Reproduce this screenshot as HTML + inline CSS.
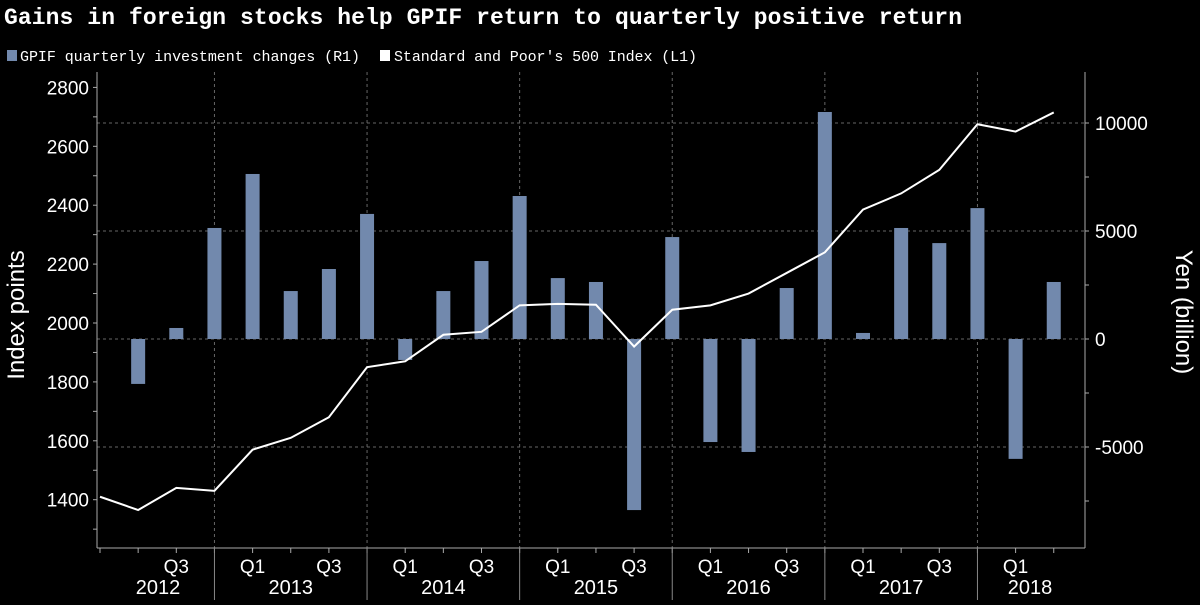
<!DOCTYPE html>
<html><head><meta charset="utf-8"><style>
body{margin:0;background:#000;width:1200px;height:600px;overflow:hidden;font-family:"Liberation Sans",sans-serif;}
svg text{font-family:"Liberation Sans","DejaVu Sans",sans-serif;fill:#fff;}
svg text.mono{font-family:"Liberation Mono","DejaVu Sans Mono",monospace;}
</style></head><body>
<svg width="1200" height="600">
<text class="mono" x="4" y="24" font-size="23" font-weight="bold" textLength="958">Gains in foreign stocks help GPIF return to quarterly positive return</text>
<g>
<rect x="7" y="50" width="10" height="11" fill="#7289ad"/>
<text class="mono" x="20" y="61" font-size="15" textLength="340">GPIF quarterly investment changes (R1)</text>
<rect x="380" y="50" width="10" height="11" fill="#fff"/>
<text class="mono" x="394" y="61" font-size="15" textLength="303">Standard and Poor's 500 Index  (L1)</text>
</g>
<g id="grid"></g><g id="bars"></g><g id="line"></g><g id="axes"></g>
<text transform="translate(24,315) rotate(-90)" text-anchor="middle" font-size="24">Index points</text>
<text transform="translate(1176,312) rotate(90)" text-anchor="middle" font-size="24">Yen (billion)</text>
</svg>
<script>
const spx=[1410,1365,1440,1430,1570,1610,1680,1850,1870,1960,1970,2060,2065,2062,1920,2045,2060,2100,2170,2240,2385,2440,2520,2675,2650,2715];
const gpif=[-2080,510,5140,7640,2220,3240,5790,-970,2220,3610,6620,2820,2640,-7920,4720,-4770,-5230,2360,10510,280,5140,4440,6060,-5550,2640];
const leftTicks=[1400,1600,1800,2000,2200,2400,2600,2800];
const rightTicks=[-5000,0,5000,10000];
const years=["2012","2013","2014","2015","2016","2017","2018"];
const NS="http://www.w3.org/2000/svg";
const X0=97,X1=1085,YB=548;
const xq=i=>100+38.15*i;
const yL=v=>323-(v-2000)*58.9/200;
const yR=v=>339-v*108/5000;
function el(t,a,p){const e=document.createElementNS(NS,t);for(const k in a)e.setAttribute(k,a[k]);document.getElementById(p).appendChild(e);return e;}
rightTicks.forEach(v=>{const g=el('line',{x1:X0,x2:X1,y1:yR(v),y2:yR(v),stroke:'#666','stroke-dasharray':'3,3','stroke-width':1},'grid');

});
for(let y=0;y<6;y++){const x=xq(3+4*y);const g=el('line',{x1:x,x2:x,y1:72,y2:YB,stroke:'#666','stroke-dasharray':'3,3'},'grid');

}
gpif.forEach((v,i)=>{const x=xq(i+1);const y0=yR(0),y1=yR(v);
const b=el('rect',{x:x-7,y:Math.min(y0,y1),width:14,height:Math.abs(y1-y0),fill:'#7289ad'},'bars');

});
const pl=el('polyline',{points:spx.map((v,i)=>xq(i)+','+yL(v)).join(' '),fill:'none',stroke:'#fff','stroke-width':2},'line');


const a1=el('line',{x1:X0,x2:X0,y1:72,y2:YB,stroke:'#aaa'},'axes');


const a2=el('line',{x1:X1,x2:X1,y1:72,y2:YB,stroke:'#aaa'},'axes');


const a3=el('line',{x1:X0,x2:X1,y1:YB,y2:YB,stroke:'#aaa'},'axes');


for(let v=1300;v<=2800;v+=100){el('line',{x1:X0-4,x2:X0,y1:yL(v),y2:yL(v),stroke:'#aaa'},'axes');}
leftTicks.forEach(v=>{const t=el('text',{x:X0-8,y:yL(v)+7,'text-anchor':'end','font-size':19},'axes');t.textContent=v;

});
for(let v=-7500;v<=11000;v+=2500){el('line',{x1:X1,x2:X1+4,y1:yR(v),y2:yR(v),stroke:'#aaa'},'axes');}
rightTicks.forEach(v=>{const t=el('text',{x:X1+10,y:yR(v)+7,'font-size':19},'axes');t.textContent=v;

});
for(let i=0;i<26;i++){el('line',{x1:xq(i),x2:xq(i),y1:YB,y2:YB+5,stroke:'#aaa'},'axes');}
for(let i=1;i<26;i++){const q=i%4;if(q===2||q===0){const t=el('text',{x:xq(i),y:YB+25,'text-anchor':'middle','font-size':19},'axes');t.textContent=q===0?'Q1':'Q3';

}}
years.forEach((y,k)=>{const s=k===0?X0:xq(4*k-1),e=k===6?X1:xq(4*k+3);
const t=el('text',{x:k===0?158:(k===6?1030:(s+e)/2),y:YB+46,'text-anchor':'middle','font-size':20},'axes');t.textContent=y;


if(k<6){el('line',{x1:e,x2:e,y1:YB,y2:600,stroke:'#888'},'axes');}});
</script>
</body></html>
